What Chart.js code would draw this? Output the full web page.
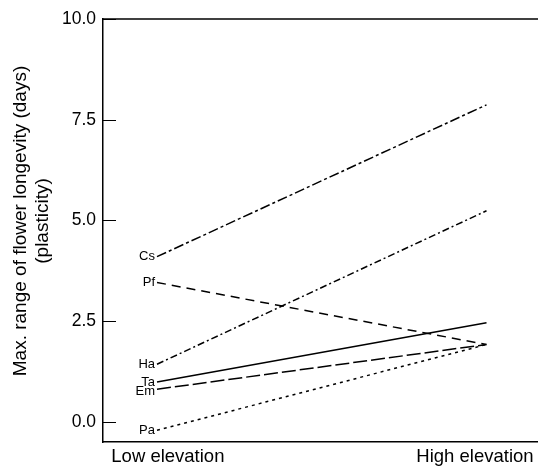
<!DOCTYPE html>
<html>
<head>
<meta charset="utf-8">
<script src="https://cdn.jsdelivr.net/npm/chart.js@4"></script>
<style>
html,body{margin:0;padding:0;background:#fff;}
#wrap{position:relative;width:538px;height:467px;}
</style>
</head>
<body>
<div id="wrap"><canvas id="c" width="538" height="467"></canvas></div>
<script>
const categories = ['Low elevation', 'High elevation'];
const species = ['Cs', 'Pf', 'Ha', 'Ta', 'Em', 'Pa'];
const lowValues = [4.10, 3.46, 1.43, 0.99, 0.81, -0.21];
const highValues = [7.87, 1.92, 5.24, 2.46, 1.92, 1.92];
const yTicks = [0, 2.5, 5, 7.5, 10];
const yTitle = ['Max. range of flower longevity (days)', '(plasticity)'];
const dashes = {Cs:[10,3,3,3], Pf:[9,6], Ha:[7,3,2,3], Ta:[], Em:[14,4], Pa:[3,4]};

const FONT = "'Liberation Sans', Arial, sans-serif";

const datasets = species.map((s, i) => ({
  label: s,
  data: [{x: 0, y: lowValues[i]}, {x: 1, y: highValues[i]}],
  borderColor: '#000',
  borderWidth: 1.5,
  borderDash: dashes[s],
  pointRadius: 0,
  fill: false,
  tension: 0
}));

const decor = {
  id: 'decor',
  afterDraw(chart) {
    const ctx = chart.ctx;
    const xs = chart.scales.x, ys = chart.scales.y;
    const a = chart.chartArea;
    ctx.save();
    ctx.strokeStyle = '#000';
    ctx.lineWidth = 1.5;
    // top border
    ctx.beginPath();
    ctx.moveTo(a.left, a.top);
    ctx.lineTo(a.right, a.top);
    ctx.stroke();
    // inward y ticks
    ctx.lineWidth = 1;
    yTicks.forEach(v => {
      const y = Math.round(ys.getPixelForValue(v)) + 0.5;
      ctx.beginPath();
      ctx.moveTo(a.left, y);
      ctx.lineTo(a.left + 13, y);
      ctx.stroke();
    });
    // species labels
    ctx.fillStyle = '#000';
    ctx.font = '13px ' + FONT;
    ctx.textAlign = 'right';
    ctx.textBaseline = 'middle';
    const x0 = xs.getPixelForValue(0) - 2;
    species.forEach((s, i) => {
      let y = ys.getPixelForValue(lowValues[i]);
      if (s === 'Em') y += 2;
      ctx.fillText(s, x0, y);
    });
    // y axis title
    ctx.font = '19px ' + FONT;
    ctx.textAlign = 'center';
    ctx.textBaseline = 'middle';
    ctx.translate(0, 221);
    ctx.rotate(-Math.PI / 2);
    ctx.fillText(yTitle[0], 0, 21);
    ctx.fillText(yTitle[1], 0, 43);
    ctx.restore();
  }
};

new Chart(document.getElementById('c'), {
  type: 'line',
  data: { datasets },
  plugins: [decor],
  options: {
    responsive: false,
    animation: false,
    devicePixelRatio: 1,
    layout: { padding: { top: 19, right: 0, left: 0, bottom: 0 } },
    plugins: { legend: { display: false }, tooltip: { enabled: false } },
    scales: {
      x: {
        type: 'linear',
        min: -0.1639,
        max: 1.1563,
        afterBuildTicks(scale) {
          scale.ticks = [{value: 0.033}, {value: 0.965}];
        },
        afterFit(scale) { scale.height = 25; },
        grid: { display: false, drawTicks: false },
        border: { display: true, color: '#000', width: 1.5 },
        ticks: {
          color: '#000',
          font: { family: FONT, size: 18.5 },
          padding: 4,
          maxRotation: 0,
          autoSkip: false,
          callback(v, idx) { return categories[idx]; }
        }
      },
      y: {
        type: 'linear',
        min: -0.5,
        max: 10,
        afterBuildTicks(scale) {
          scale.ticks = yTicks.map(v => ({value: v}));
        },
        afterFit(scale) { scale.width = 103; },
        grid: { display: false, drawTicks: false },
        border: { display: true, color: '#000', width: 1.5 },
        ticks: {
          color: '#000',
          font: { family: FONT, size: 17.5 },
          padding: 7,
          callback(v) { return v.toFixed(1); }
        }
      }
    }
  }
});
</script>
</body>
</html>
